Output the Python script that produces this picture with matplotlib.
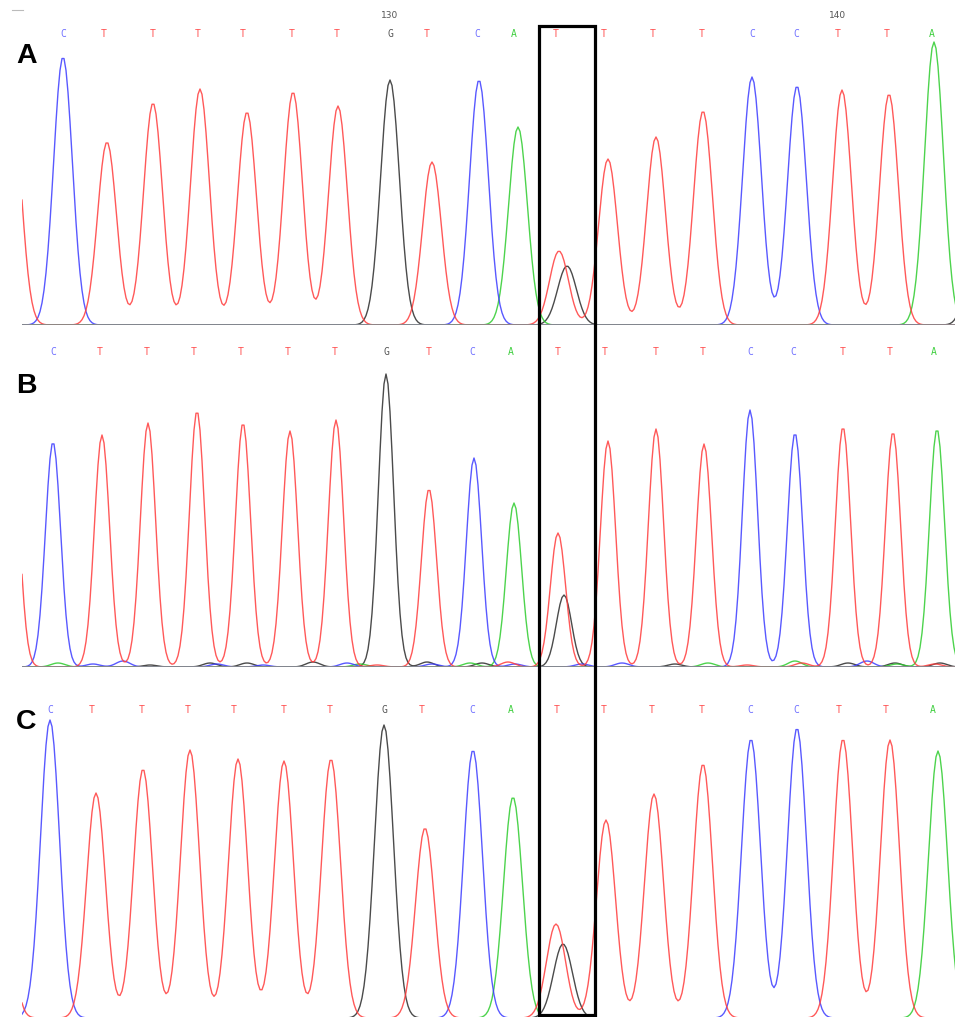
import numpy as np
import matplotlib
matplotlib.use('Agg')
import matplotlib.pyplot as plt
from matplotlib.patches import Rectangle

bases = ['C', 'T', 'T', 'T', 'T', 'T', 'T', 'G', 'T', 'C',
         'A', 'T', 'T', 'T', 'T', 'C', 'C', 'T', 'T', 'A']

# posiciones de las letras (escaneo) por panel
label_x_a = [63, 104, 153, 198, 243, 292, 337, 390, 427, 477,
             514, 556, 604, 653, 702, 752, 796, 838, 887, 932]
label_x_b = [53, 100, 147, 194, 241, 288, 335, 386, 429, 472,
             511, 558, 605, 656, 703, 750, 793, 843, 890, 934]
label_x_c = [50, 92, 142, 188, 234, 284, 330, 384, 422, 472,
             511, 557, 604, 652, 702, 750, 796, 839, 886, 933]

# picos: canal, posicion, altura
peaks_a_base = ['T', 'C', 'T', 'T', 'T', 'T', 'T', 'T', 'G', 'T', 'C', 'A', 'T', 'G',
                'T', 'T', 'T', 'C', 'C', 'T', 'T', 'A', 'G']
peaks_a_x = [12, 63, 107, 153, 200, 247, 293, 338, 390, 432, 479, 518, 559, 567,
             608, 656, 703, 752, 797, 842, 889, 934, 978]
peaks_a_h = [220, 268, 183, 222, 236, 213, 233, 219, 245, 163, 245, 198, 74, 59,
             166, 188, 214, 248, 239, 235, 231, 283, 120]

peaks_b_base = ['T', 'C', 'T', 'T', 'T', 'T', 'T', 'T', 'G', 'T', 'C', 'A', 'T', 'G',
                'T', 'T', 'T', 'C', 'C', 'T', 'T', 'A']
peaks_b_x = [12, 53, 102, 148, 197, 243, 290, 336, 386, 429, 474, 514, 558, 564,
             608, 656, 704, 750, 795, 843, 893, 937]
peaks_b_h = [220, 225, 232, 244, 256, 244, 236, 247, 293, 178, 209, 164, 134, 72,
             226, 238, 223, 257, 234, 240, 235, 238]

# ruido de fondo en B
noise_b_base = ['A', 'C', 'C', 'G', 'G', 'C', 'G', 'C', 'G', 'C', 'A', 'T', 'G', 'C',
                'A', 'G', 'T', 'C', 'C', 'C', 'G', 'A', 'T', 'A', 'T', 'G', 'C',
                'G', 'A', 'G', 'T']
noise_b_x = [58, 93, 123, 150, 210, 217, 247, 263, 313, 347, 360, 377, 427, 432,
             470, 482, 508, 515, 582, 622, 675, 708, 747, 795, 802, 848, 867,
             895, 897, 940, 935]
noise_b_h = [4, 3, 6, 2, 4, 3, 4, 2, 5, 4, 3, 2, 5, 3,
             4, 4, 5, 3, 3, 4, 3, 4, 2, 6, 4, 4, 6,
             4, 3, 4, 3]

peaks_c_base = ['T', 'C', 'T', 'T', 'T', 'T', 'T', 'T', 'G', 'T', 'C', 'A', 'T', 'G',
                'T', 'T', 'T', 'C', 'C', 'T', 'T', 'A']
peaks_c_x = [0, 50, 96, 143, 190, 238, 284, 331, 384, 425, 473, 513, 556, 563,
             606, 654, 703, 751, 797, 843, 890, 938]
peaks_c_h = [220, 298, 225, 249, 268, 259, 257, 259, 293, 190, 268, 221, 94, 74,
             198, 224, 254, 279, 290, 279, 278, 267]

trace_colors = {'A': '#2ecc2e', 'C': '#3c3cff', 'G': '#2b2b2b', 'T': '#ff3c3c'}
label_colors = {'A': '#3fcf3f', 'C': '#7070ff', 'G': '#555555', 'T': '#ff5050'}

W, H = 955, 1017
fig = plt.figure(figsize=(W / 100, H / 100), dpi=100)
fig.patch.set_facecolor('white')

x = np.arange(22, 960, 2.0)


def trazas(ax, base_list, px, ph, sigma, extra=None):
    for canal in ['G', 'A', 'C', 'T']:
        y = np.zeros_like(x)
        for b, p, h in zip(base_list, px, ph):
            if b == canal:
                y += h * np.exp(-(x - p) ** 2 / (2 * sigma ** 2))
        if extra is not None:
            for b, p, h in zip(*extra):
                if b == canal:
                    y += h * np.exp(-(x - p) ** 2 / (2 * 7.0 ** 2))
        ax.plot(x, y, color=trace_colors[canal], linewidth=1.0, alpha=0.85, zorder=2)


def panel(top, bottom, base_list, px, ph, sigma, label_x, label_y, extra=None,
          baseline=True):
    alto = bottom - top
    ax = fig.add_axes([22 / W, 1 - bottom / H, (W - 22) / W, alto / H])
    ax.set_xlim(22, W)
    ax.set_ylim(0, alto)
    ax.axis('off')
    trazas(ax, base_list, px, ph, sigma, extra)
    if baseline:
        ax.axhline(0, color='#8a8a8a', linewidth=1.3, zorder=3)
    for b, lx in zip(bases, label_x):
        ax.text(lx, label_y, b, color=label_colors[b], fontsize=7,
                family='DejaVu Sans Mono', ha='center', va='center')
    return ax


ax_a = panel(0, 325, peaks_a_base, peaks_a_x, peaks_a_h, 9.4, label_x_a, 325 - 34)
ax_a.text(390, 325 - 16, '130', color='#555555', fontsize=6.5, ha='center', va='center')
ax_a.text(838, 325 - 16, '140', color='#555555', fontsize=6.5, ha='center', va='center')

ax_b = panel(338, 667, peaks_b_base, peaks_b_x, peaks_b_h, 7.6, label_x_b, 667 - 352,
             extra=(noise_b_base, noise_b_x, noise_b_h))

# en C la linea base queda fuera del recorte
ax_c = panel(680, 1018, peaks_c_base, peaks_c_x, peaks_c_h, 9.5, label_x_c, 1018 - 710,
             baseline=False)

# capa superior para el recuadro y las letras de panel
ov = fig.add_axes([0, 0, 1, 1])
ov.set_xlim(0, W)
ov.set_ylim(H, 0)
ov.axis('off')
ov.patch.set_alpha(0)
ov.add_patch(Rectangle((539, 26), 56, 989, fill=False, edgecolor='black', linewidth=2.3))
ov.plot([12, 23], [10, 10], color='#bbbbbb', linewidth=0.8)

for letra, ly in zip(['A', 'B', 'C'], [63, 393, 729]):
    ov.text(16, ly, letra, fontsize=20.5, fontweight='bold', family='Liberation Sans',
            ha='left', va='baseline', color='black')

fig.savefig('out.png', dpi=100)
